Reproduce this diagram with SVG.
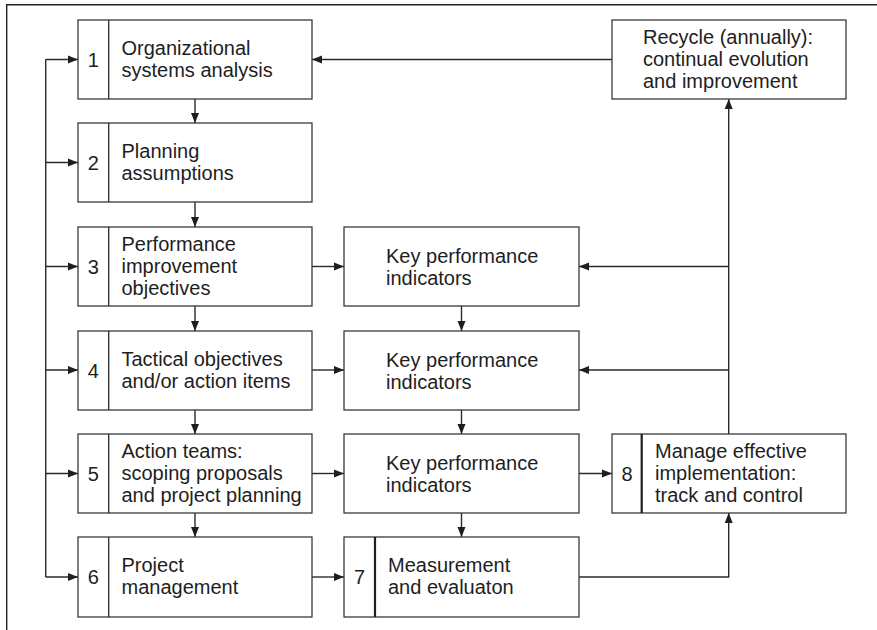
<svg xmlns="http://www.w3.org/2000/svg" width="877" height="630" viewBox="0 0 877 630">
<style>
.box{fill:#fff;stroke:#3a3a3a;stroke-width:1.3}
.div{stroke:#2a2a2a;stroke-width:1.3}
.divb{stroke:#1e1e1e;stroke-width:2.2}
.t{font-family:"Liberation Sans",Arial,sans-serif;font-size:20px;fill:#1e1e1e}
.n{font-family:"Liberation Sans",Arial,sans-serif;font-size:20px;fill:#1e1e1e;text-anchor:middle}
.c{fill:none;stroke:#2a2a2a;stroke-width:1.4}
.frame{fill:none;stroke:#222;stroke-width:1.4}
</style>
<defs>
<marker id="ah" markerUnits="userSpaceOnUse" markerWidth="11" markerHeight="9" refX="10" refY="4" orient="auto" viewBox="0 0 11 8">
<path d="M0,0 L10,4 L0,8 z" fill="#1e1e1e"/>
</marker>
</defs>
<rect width="877" height="630" fill="#fff"/>
<path class="frame" d="M6.7,630 V4.7 H877"/>

<g id="connectors">
<path class="c" d="M45.7,577 V59.5"/>
<path class="c" d="M45.7,59.5 H78" marker-end="url(#ah)"/>
<path class="c" d="M45.7,162.5 H78" marker-end="url(#ah)"/>
<path class="c" d="M45.7,266.5 H78" marker-end="url(#ah)"/>
<path class="c" d="M45.7,370 H78" marker-end="url(#ah)"/>
<path class="c" d="M45.7,473.5 H78" marker-end="url(#ah)"/>
<path class="c" d="M45.7,577 H78" marker-end="url(#ah)"/>
<path class="c" d="M195,99 V123" marker-end="url(#ah)"/>
<path class="c" d="M195,202 V227" marker-end="url(#ah)"/>
<path class="c" d="M195,306 V331" marker-end="url(#ah)"/>
<path class="c" d="M195,410 V434" marker-end="url(#ah)"/>
<path class="c" d="M195,513 V537" marker-end="url(#ah)"/>
<path class="c" d="M312,266.5 H344" marker-end="url(#ah)"/>
<path class="c" d="M312,370 H344" marker-end="url(#ah)"/>
<path class="c" d="M312,473.5 H344" marker-end="url(#ah)"/>
<path class="c" d="M312,577 H344" marker-end="url(#ah)"/>
<path class="c" d="M461.5,306 V331" marker-end="url(#ah)"/>
<path class="c" d="M461.5,410 V434" marker-end="url(#ah)"/>
<path class="c" d="M461.5,513 V537" marker-end="url(#ah)"/>
<path class="c" d="M579,473.5 H612" marker-end="url(#ah)"/>
<path class="c" d="M728.7,434 V99" marker-end="url(#ah)"/>
<path class="c" d="M728.7,266.5 H579" marker-end="url(#ah)"/>
<path class="c" d="M728.7,370 H579" marker-end="url(#ah)"/>
<path class="c" d="M612,59.5 H312" marker-end="url(#ah)"/>
<path class="c" d="M579,577 H728.7 V513" marker-end="url(#ah)"/>
</g>

<g id="node1">
<rect class="box" x="78" y="20" width="234" height="79"/>
<line class="div" x1="108.7" y1="20" x2="108.7" y2="99"/>
<text class="n" x="93.4" y="66.7">1</text>
<text class="t" x="121.5" y="55">Organizational</text>
<text class="t" x="121.5" y="77">systems analysis</text>
</g>
<g id="node2">
<rect class="box" x="78" y="123" width="234" height="79"/>
<line class="div" x1="108.7" y1="123" x2="108.7" y2="202"/>
<text class="n" x="93.4" y="169.7">2</text>
<text class="t" x="121.5" y="158">Planning</text>
<text class="t" x="121.5" y="180">assumptions</text>
</g>
<g id="node3">
<rect class="box" x="78" y="227" width="234" height="79"/>
<line class="div" x1="108.7" y1="227" x2="108.7" y2="306"/>
<text class="n" x="93.4" y="273.7">3</text>
<text class="t" x="121.5" y="251">Performance</text>
<text class="t" x="121.5" y="273">improvement</text>
<text class="t" x="121.5" y="295">objectives</text>
</g>
<g id="node4">
<rect class="box" x="78" y="331" width="234" height="79"/>
<line class="div" x1="108.7" y1="331" x2="108.7" y2="410"/>
<text class="n" x="93.4" y="377.5">4</text>
<text class="t" x="121.5" y="365.5">Tactical objectives</text>
<text class="t" x="121.5" y="387.5">and/or action items</text>
</g>
<g id="node5">
<rect class="box" x="78" y="434" width="234" height="79"/>
<line class="div" x1="108.7" y1="434" x2="108.7" y2="513"/>
<text class="n" x="93.4" y="480.7">5</text>
<text class="t" x="121.5" y="458">Action teams:</text>
<text class="t" x="121.5" y="480">scoping proposals</text>
<text class="t" x="121.5" y="502">and project planning</text>
</g>
<g id="node6">
<rect class="box" x="78" y="537" width="234" height="80"/>
<line class="div" x1="108.7" y1="537" x2="108.7" y2="617"/>
<text class="n" x="93.4" y="584">6</text>
<text class="t" x="121.5" y="572">Project</text>
<text class="t" x="121.5" y="594">management</text>
</g>
<g id="kpi3">
<rect class="box" x="344" y="227" width="235" height="79"/>
<text class="t" x="386" y="263">Key performance</text>
<text class="t" x="386" y="285">indicators</text>
</g>
<g id="kpi4">
<rect class="box" x="344" y="331" width="235" height="79"/>
<text class="t" x="386" y="366.5">Key performance</text>
<text class="t" x="386" y="388.5">indicators</text>
</g>
<g id="kpi5">
<rect class="box" x="344" y="434" width="235" height="79"/>
<text class="t" x="386" y="469.5">Key performance</text>
<text class="t" x="386" y="491.5">indicators</text>
</g>
<g id="node7">
<rect class="box" x="344" y="537" width="235" height="80"/>
<line class="divb" x1="375" y1="537" x2="375" y2="617"/>
<text class="n" x="359.5" y="584">7</text>
<text class="t" x="388" y="572">Measurement</text>
<text class="t" x="388" y="594">and evaluaton</text>
</g>
<g id="node8">
<rect class="box" x="612" y="434" width="234" height="79"/>
<line class="divb" x1="641.7" y1="434" x2="641.7" y2="513"/>
<text class="n" x="627" y="480.7">8</text>
<text class="t" x="655" y="458">Manage effective</text>
<text class="t" x="655" y="480">implementation:</text>
<text class="t" x="655" y="502">track and control</text>
</g>
<g id="recycle">
<rect class="box" x="612" y="20" width="234" height="79"/>
<text class="t" x="643" y="44">Recycle (annually):</text>
<text class="t" x="643" y="66">continual evolution</text>
<text class="t" x="643" y="88">and improvement</text>
</g>
</svg>
